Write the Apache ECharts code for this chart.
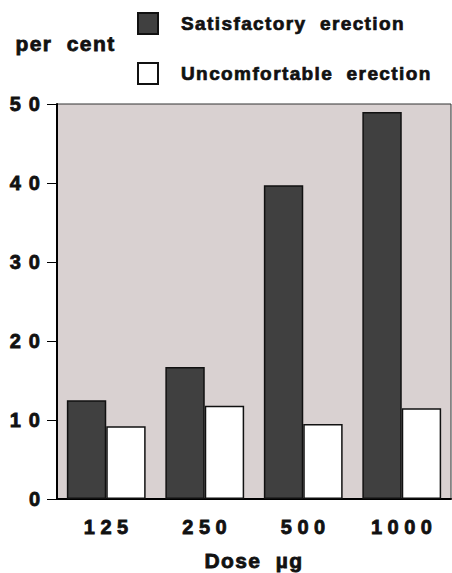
<!DOCTYPE html>
<html>
<head>
<meta charset="utf-8">
<script src="https://cdn.jsdelivr.net/npm/echarts@6/dist/echarts.min.js"></script>
<style>
  html, body { margin: 0; padding: 0; background: #ffffff; }
  #chart { width: 452px; height: 573px; }
  #chart svg text { white-space: pre; letter-spacing: 1.4px; }
  #chart svg text[text-anchor="end"] { letter-spacing: 8px; }
  #chart svg text[text-anchor="middle"] { letter-spacing: 5.5px; }
</style>
</head>
<body>
<div id="chart"></div>
<script>
var categories = ['125', '250', '500', '1000'];
var satisfactory = [12.5, 16.7, 39.7, 49.0];
var uncomfortable = [9.2, 11.8, 9.5, 11.5];
var seriesNames = ['Satisfactory  erection', 'Uncomfortable  erection'];
var yTicks = { min: 0, max: 50, interval: 10 };

var FONT = '"Liberation Sans", Arial, sans-serif';
var TXT = '#111111';
var chart = echarts.init(document.getElementById('chart'), null, { renderer: 'svg' });
chart.setOption({
  animation: false,
  backgroundColor: '#ffffff',
  grid: {
    left: 57, right: 1, top: 104, bottom: 74,
    show: true, backgroundColor: '#d9d1d1', borderColor: '#333333', borderWidth: 1
  },
  legend: {
    orient: 'vertical', left: 137, top: 12, padding: 0,
    itemWidth: 20, itemHeight: 21, itemGap: 27,
    icon: 'rect',
    textStyle: { fontFamily: FONT, fontWeight: 'bold', fontSize: 19, color: TXT,
      textBorderColor: TXT, textBorderWidth: 0.7, padding: [3, 0, 0, 18] },
    data: seriesNames
  },
  graphic: [
    { type: 'text', left: 15, top: 33, style: { text: 'per  cent', font: 'bold 21px ' + FONT, fill: TXT, stroke: TXT, lineWidth: 0.8 } },
    { type: 'text', left: 204, top: 550, style: { text: 'Dose  µg', font: 'bold 21px ' + FONT, fill: TXT, stroke: TXT, lineWidth: 0.8 } }
  ],
  xAxis: {
    type: 'category', data: categories,
    axisLine: { lineStyle: { color: '#000', width: 2 } },
    axisTick: { alignWithLabel: true, length: 10, lineStyle: { color: '#000', width: 1 } },
    axisLabel: { fontFamily: FONT, fontWeight: 'bold', fontSize: 20, color: TXT,
      textBorderColor: TXT, textBorderWidth: 0.8, margin: 18, padding: [0, 0, 0, 5] },
    splitLine: { show: false }
  },
  yAxis: {
    type: 'value', min: yTicks.min, max: yTicks.max, interval: yTicks.interval,
    axisLine: { show: true, lineStyle: { color: '#000', width: 2 } },
    axisTick: { show: true, length: 10, lineStyle: { color: '#000', width: 1 } },
    axisLabel: { fontFamily: FONT, fontWeight: 'bold', fontSize: 20, color: TXT,
      textBorderColor: TXT, textBorderWidth: 0.8, margin: 9 },
    splitLine: { show: false }
  },
  series: [
    {
      name: seriesNames[0], type: 'bar', data: satisfactory,
      barGap: '0%', barCategoryGap: '20%',
      itemStyle: { color: '#404040', borderColor: '#111', borderWidth: 1.5 }
    },
    {
      name: seriesNames[1], type: 'bar', data: uncomfortable,
      barGap: '0%', barCategoryGap: '20%',
      itemStyle: { color: '#ffffff', borderColor: '#111', borderWidth: 1.5 }
    }
  ]
});
</script>
</body>
</html>
